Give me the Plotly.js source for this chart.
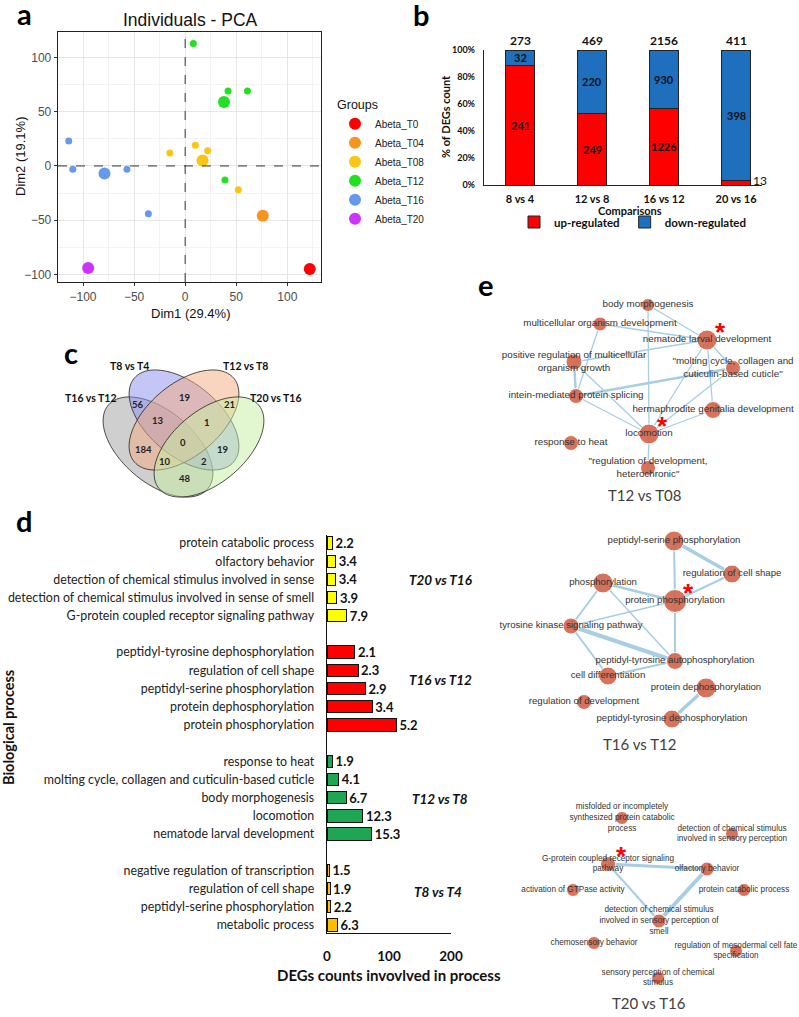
<!DOCTYPE html>
<html><head><meta charset="utf-8">
<script src="https://cdn.plot.ly/plotly-3.0.1.min.js"></script>
<style>html,body{margin:0;padding:0;background:#fff}#chart{width:799px;height:1017px}</style>
</head><body><div id="chart"></div>
<script>
// ================= DATA =================
// (a) PCA
const pcaGroups = ['Abeta_T0','Abeta_T04','Abeta_T08','Abeta_T12','Abeta_T16','Abeta_T20'];
const pcaMeanX = [122, 76, 17, 38, -79, -95];
const pcaMeanY = [-95, -46, 5, 59, -7, -94];
const pcaT08X = [-15, 10, 22, 52];   const pcaT08Y = [12, 19, 14, -22];
const pcaT12X = [8, 42, 61, 39];     const pcaT12Y = [113, 69, 69, -13];
const pcaT16X = [-114, -110, -57, -36]; const pcaT16Y = [23, -3, -3, -44];

// (b) DEG counts
const comparisons = ['8 vs 4','12 vs 8','16 vs 12','20 vs 16'];
const upCounts = [241, 249, 1226, 13];
const downCounts = [32, 220, 930, 398];
const pctTicks = [0, 20, 40, 60, 80, 100];

// (c) Venn
const vennSets = ['T8 vs T4','T12 vs T8','T16 vs T12','T20 vs T16'];
const vennCounts = [56, 19, 21, 13, 1, 184, 0, 19, 10, 2, 48];

// (d) GO terms
const groupNames = ['T20 vs T16','T16 vs T12','T12 vs T8','T8 vs T4'];
const g20Terms = ['protein catabolic process','olfactory behavior','detection of chemical stimulus involved in sense','detection of chemical stimulus involved in sense of smell','G-protein coupled receptor signaling pathway'];
const g20Counts = [9, 14, 14, 16, 32];
const g20Pct = [2.2, 3.4, 3.4, 3.9, 7.9];
const g16Terms = ['peptidyl-tyrosine dephosphorylation','regulation of cell shape','peptidyl-serine phosphorylation','protein dephosphorylation','protein phosphorylation'];
const g16Counts = [45, 50, 62, 73, 112];
const g16Pct = [2.1, 2.3, 2.9, 3.4, 5.2];
const g12Terms = ['response to heat','molting cycle, collagen and cuticulin-based cuticle','body morphogenesis','locomotion','nematode larval development'];
const g12Counts = [9, 19, 31, 58, 72];
const g12Pct = [1.9, 4.1, 6.7, 12.3, 15.3];
const g8Terms = ['negative regulation of transcription','regulation of cell shape','peptidyl-serine phosphorylation','metabolic process'];
const g8Counts = [4, 5, 6, 17];
const g8Pct = [1.5, 1.9, 2.2, 6.3];

// (e) networks: node names, layout coordinates, node sizes, starred, edges [i,j,weight]
const net1Names = ['body morphogenesis','multicellular organism development','nematode larval development','positive regulation of multicellular<br>organism growth','"molting cycle, collagen and<br>cuticulin-based cuticle"','intein-mediated protein splicing','hermaphrodite genitalia development','locomotion','response to heat','"regulation of development,<br>heterochronic"'];
const net1X = [648, 600, 707, 574, 733, 576, 713, 649, 571, 648];
const net1Y = [305, 324, 340, 362, 368, 396, 410, 434, 443, 468];
const net1Size = [13, 14, 20, 16, 15, 15, 17, 20, 15, 15];
const net1Star = [0,0,1,0,0,0,0,1,0,0];
const net1Edges = [[0,2,1.3],[0,7,1.3],[1,2,1.3],[1,5,1.3],[3,5,2.5],[3,2,1.3],[3,7,1.3],[5,7,1.3],[5,4,2.5],[2,7,1.3],[2,6,1.3],[2,4,1.3],[4,7,1.3],[7,6,1.3],[7,9,1.3]];

const net2Names = ['peptidyl-serine phosphorylation','regulation of cell shape','phosphorylation','protein phosphorylation','tyrosine kinase signaling pathway','peptidyl-tyrosine autophosphorylation','cell differentiation','protein dephosphorylation','regulation of development','peptidyl-tyrosine dephosphorylation'];
const net2X = [674, 732, 603, 675, 571, 675, 608, 706, 584, 672];
const net2Y = [541, 574, 583, 601, 626, 661, 676, 688, 702, 719];
const net2Size = [20, 18, 20, 23, 16, 17, 18, 20, 15, 18];
const net2Star = [0,0,0,1,0,0,0,0,0,0];
const net2Edges = [[0,1,3.5],[0,3,2],[1,3,2],[2,3,2.5],[2,4,2],[2,5,1.5],[3,4,1.5],[3,5,2],[4,5,4],[4,6,2],[6,5,2],[7,9,3.5]];

const net3Names = ['misfolded or incompletely<br>synthesized protein catabolic<br>process','detection of chemical stimulus<br>involved in sensory perception','G-protein coupled receptor signaling<br>pathway','olfactory behavior','activation of GTPase activity','protein catabolic process','detection of chemical stimulus<br>involved in sensory perception of<br>smell','chemosensory behavior','regulation of mesodermal cell fate<br>specification','sensory perception of chemical<br>stimulus'];
const net3X = [622, 732, 608, 707, 573, 744, 659, 594, 736, 658];
const net3Y = [818, 834, 864, 869, 890, 890, 921, 943, 951, 978];
const net3Size = [13, 13, 15, 14, 13, 13, 14, 13, 13, 13];
const net3Star = [0,0,1,0,0,0,0,0,0,0];
const net3Edges = [[2,3,3],[2,6,2],[3,6,4]];

// ================= STYLE / LAYOUT =================
const W = 799, H = 1017;
const LATO = 'Lato, "Open Sans", sans-serif';
const ARIAL = '"Liberation Sans", Arial, sans-serif';
const pcaColors = ['#ff0000','#f7941d','#fcc512','#22e022','#6699ee','#cc33ff'];
const dColors = ['#ffff00','#ff0000','#1fa654','#ffc000'];
const dx = p => [p[0]/W, p[1]/W];
const dy = p => [1 - p[1]/H, 1 - p[0]/H];

const traces = [];
// ---- (a) PCA
const indiv = {2:[pcaT08X,pcaT08Y], 3:[pcaT12X,pcaT12Y], 4:[pcaT16X,pcaT16Y]};
Object.keys(indiv).forEach(k => {
  traces.push({type:'scatter', mode:'markers', x:indiv[k][0], y:indiv[k][1], xaxis:'x', yaxis:'y',
    marker:{color:pcaColors[k], size:7}, showlegend:false, legendgroup:pcaGroups[k], hoverinfo:'skip'});
});
pcaGroups.forEach((g,i) => {
  traces.push({type:'scatter', mode:'markers', x:[pcaMeanX[i]], y:[pcaMeanY[i]], xaxis:'x', yaxis:'y',
    name:g, legendgroup:g, legend:'legend', marker:{color:pcaColors[i], size:12}});
});

// ---- (b) stacked percentages
const totals = upCounts.map((u,i)=>u+downCounts[i]);
const upPct = upCounts.map((u,i)=>u/totals[i]*100);
const downPct = downCounts.map((d,i)=>d/totals[i]*100);
traces.push({type:'bar', x:comparisons, y:upPct, name:'up-regulated', xaxis:'x2', yaxis:'y2', legend:'legend2',
  width:0.4, marker:{color:'#ff0000', line:{color:'#222', width:1}}});
traces.push({type:'bar', x:comparisons, y:downPct, name:'down-regulated', xaxis:'x2', yaxis:'y2', legend:'legend2',
  width:0.4, marker:{color:'#1f6fbf', line:{color:'#222', width:1}}});

// ---- (d) horizontal bars, groups separated by an empty slot
const dGroups = [[g20Terms,g20Counts,g20Pct],[g16Terms,g16Counts,g16Pct],[g12Terms,g12Counts,g12Pct],[g8Terms,g8Counts,g8Pct]];
let slot = 0; const tickVals = [], tickText = [];
dGroups.forEach((g,gi) => {
  const ys = g[0].map((t,j)=>slot+j);
  ys.forEach((s,j)=>{tickVals.push(s); tickText.push(g[0][j]);});
  traces.push({type:'bar', orientation:'h', x:g[1], y:ys, xaxis:'x3', yaxis:'y3', showlegend:false, width:0.68,
    marker:{color:dColors[gi], line:{color:'#111', width:1}},
    text:g[2].map(v=>v.toFixed(1)), textposition:'outside', cliponaxis:false, constraintext:'none',
    textfont:{family:LATO, size:13, color:'#111', weight:'bold'}});
  slot += g[0].length + 1;
});

// ---- (e) networks on canvas axis (x4/y4 in px units)
const annotations = [];
const starOff = [13, -12];
function addNet(names, X, Y, S, star, edges, fsize){
  const widths = [...new Set(edges.map(e=>e[2]))];
  widths.forEach(w => {
    const xs=[], ys=[];
    edges.filter(e=>e[2]===w).forEach(e=>{xs.push(X[e[0]],X[e[1]],null); ys.push(Y[e[0]],Y[e[1]],null);});
    traces.push({type:'scatter', mode:'lines', x:xs, y:ys, xaxis:'x4', yaxis:'y4', showlegend:false,
      line:{color:'#a7cee2', width:w}, hoverinfo:'skip', cliponaxis:false});
  });
  traces.push({type:'scatter', mode:'markers+text', x:X, y:Y, text:names, textposition:'middle center',
    xaxis:'x4', yaxis:'y4', showlegend:false, cliponaxis:false,
    marker:{color:'#d4674f', size:S, opacity:0.92},
    textfont:{family:ARIAL, size:fsize, color:'#333'}});
  star.forEach((s,i)=>{ if(s) annotations.push({xref:'x4', yref:'y4', x:X[i]+starOff[0], y:Y[i]+starOff[1]+4,
    text:'*', showarrow:false, font:{family:ARIAL, size:26, color:'#ff0000', weight:'bold'}}); });
}
addNet(net1Names, net1X, net1Y, net1Size, net1Star, net1Edges, 9.8);
addNet(net2Names, net2X, net2Y, net2Size, net2Star, net2Edges, 9.6);
addNet(net3Names, net3X, net3Y, net3Size, net3Star, net3Edges, 8.2);

// ---- annotations
function txt(x, y, t, size, fam, opt){ return Object.assign({xref:'x4', yref:'y4', x:x, y:y, text:t, showarrow:false,
  font:{family:fam, size:size, color:'#111'}}, opt||{}); }
// panel letters
[['a',24,13],['b',421,14],['c',71,352],['d',24,520],['e',486,284]].forEach(p =>
  annotations.push(txt(p[1], p[2], p[0], 29, LATO, {font:{family:LATO, size:29, color:'#000', weight:'bold'}})));
// a
annotations.push(txt(190, 20, 'Individuals - PCA', 17.5, ARIAL, {font:{family:ARIAL,size:17.5,color:'#111'}}));
annotations.push(txt(190, 313, 'Dim1 (29.4%)', 13, ARIAL));
annotations.push(txt(20, 157, 'Dim2 (19.1%)', 13, ARIAL, {textangle:-90}));
// b
comparisons.forEach((c,i) => {
  annotations.push({xref:'x2', yref:'y2', x:c, y:100, yanchor:'bottom', text:String(totals[i]), showarrow:false,
    font:{family:LATO, size:12, color:'#111', weight:'bold'}});
  [[upCounts[i], upPct[i]/2, upPct[i]],[downCounts[i], upPct[i]+downPct[i]/2, downPct[i]]].forEach(s => {
    if (s[2] >= 5) annotations.push({xref:'x2', yref:'y2', x:c, y:s[1], text:String(s[0]), showarrow:false,
      font:{family:LATO, size:11, color:'#111', weight:'bold'}});
    else annotations.push({xref:'x2', yref:'y2', x:i+0.2, y:s[1], xanchor:'left', xshift:1, yshift:2, text:String(s[0]), showarrow:false,
      font:{family:LATO, size:12, color:'#111'}});
  });
});
annotations.push(txt(445, 117, '% of DEGs count', 11, LATO, {textangle:-90, font:{family:LATO,size:11,color:'#111',weight:'bold'}}));
annotations.push(txt(630, 210, 'Comparisons', 11, LATO, {font:{family:LATO,size:11,color:'#111',weight:'bold'}}));
// c
const vennLabelPos = [[129,366],[245,366],[91,398],[276,398]];
vennSets.forEach((s,i)=>annotations.push(txt(vennLabelPos[i][0], vennLabelPos[i][1], s, 10.5, LATO, {font:{family:LATO,size:10.5,color:'#111',weight:'bold'}})));
const vennCountPos = [[138,404],[185,397],[229,404],[158,420],[207,422],[143,449],[183,442],[223,449],[165,461],[204,461],[185,478]];
vennCounts.forEach((v,i)=>annotations.push(txt(vennCountPos[i][0], vennCountPos[i][1], String(v), 9.5, LATO, {font:{family:LATO,size:9.5,color:'#222',weight:'bold'}})));
// d
const groupLabelPx = [[441,580],[440,680],[440,799],[438,892]];
groupNames.forEach((g,i)=>annotations.push(txt(groupLabelPx[i][0], groupLabelPx[i][1], g, 13.5, LATO, {font:{family:LATO,size:13.5,color:'#111',weight:'bold',style:'italic'}})));
annotations.push(txt(389, 975, 'DEGs counts invovlved in process', 15, LATO, {font:{family:LATO,size:15,color:'#111',weight:'bold'}}));
annotations.push(txt(8, 728, 'Biological process', 14.5, LATO, {textangle:-90, font:{family:LATO,size:14.5,color:'#111',weight:'bold'}}));
// e titles
[['T12 vs T08',644,495],['T16 vs T12',639,744],['T20 vs T16',649,1003]].forEach(t=>
  annotations.push(txt(t[1], t[2], t[0], 15, LATO, {font:{family:LATO,size:15,color:'#404040'}})));

// ---- Venn ellipses (geometry)
function ellipsePath(cx, cy, a, b, deg){
  const t = deg*Math.PI/180; let s = '';
  for (let i=0;i<=90;i++){ const ph=i/90*2*Math.PI, ex=a*Math.cos(ph), ey=b*Math.sin(ph);
    s += (i?'L':'M') + (cx+ex*Math.cos(t)-ey*Math.sin(t)).toFixed(2) + ',' + (cy+ex*Math.sin(t)+ey*Math.cos(t)).toFixed(2); }
  return s + 'Z';
}
const vennShapes = [ // [cx, cy, a, b, rotation, fill]
  [158, 447, 65, 36, 40, 'rgba(160,160,160,0.5)'],
  [184, 420, 65, 36, 40, 'rgba(137,141,237,0.5)'],
  [184, 420, 65, 36, -40, 'rgba(243,169,127,0.5)'],
  [209, 447, 65, 36, -40, 'rgba(197,239,159,0.5)']
];
const shapes = vennShapes.map(v => ({type:'path', xref:'x4', yref:'y4', path:ellipsePath(v[0],v[1],v[2],v[3],v[4]),
  fillcolor:v[5], line:{color:'#222', width:0.8}}));
shapes.push({type:'line', xref:'x', yref:'y', x0:0, x1:0, y0:-107, y1:123.5, line:{color:'#333', width:1, dash:'dash'}});
shapes.push({type:'line', xref:'x', yref:'y', x0:-124.5, x1:133, y0:0, y1:0, line:{color:'#333', width:1, dash:'dash'}});

const layout = {
  width:W, height:H, margin:{l:0,r:0,t:0,b:0}, paper_bgcolor:'#fff', plot_bgcolor:'rgba(0,0,0,0)',
  font:{family:LATO, color:'#111'}, barmode:'stack', showlegend:true,
  xaxis:{domain:dx([58,321]), range:[-124.5,133], anchor:'y', tickvals:[-100,-50,0,50,100], showgrid:true, gridcolor:'#e6e6e6',
    minor:{tickvals:[-125,-75,-25,25,75,125], showgrid:true, gridcolor:'#f3f3f3', ticks:''}, zeroline:false,
    showline:true, mirror:true, linecolor:'#222', linewidth:1.3, ticks:'outside', ticklen:3, tickcolor:'#333',
    tickfont:{family:ARIAL, size:12, color:'#4d4d4d'}},
  yaxis:{domain:dy([32,282]), range:[-107,123.5], anchor:'x', tickvals:[-100,-50,0,50,100], showgrid:true, gridcolor:'#e6e6e6',
    minor:{tickvals:[-75,-25,25,75], showgrid:true, gridcolor:'#f3f3f3', ticks:''}, zeroline:false,
    showline:true, mirror:true, linecolor:'#222', linewidth:1.3, ticks:'outside', ticklen:3, tickcolor:'#333',
    tickfont:{family:ARIAL, size:12, color:'#4d4d4d'}},
  xaxis2:{domain:dx([484,762]), anchor:'y2', type:'category', range:[-0.5,3.36], showline:true, linecolor:'#222', linewidth:1.2,
    showgrid:false, zeroline:false, ticks:'', tickfont:{family:LATO, size:11, color:'#111', weight:'bold'}, ticklabelstandoff:4},
  yaxis2:{domain:dy([50,185]), anchor:'x2', range:[0,100], tickmode:'array', tickvals:pctTicks, ticktext:pctTicks.map(v=>v+'%'), showline:true,
    linecolor:'#222', linewidth:1.2, showgrid:false, zeroline:false, ticks:'', ticklabelstandoff:6,
    tickfont:{family:LATO, size:9, color:'#111', weight:'bold'}},
  xaxis3:{domain:dx([327,451]), anchor:'y3', range:[0,200], tickvals:[0,100,200], showline:true, linecolor:'#111', linewidth:1.3,
    showgrid:false, zeroline:false, ticks:'', ticklabelstandoff:10, tickfont:{family:LATO, size:13.5, color:'#111', weight:'bold'}},
  yaxis3:{domain:dy([535,933]), anchor:'x3', range:[slot - 2 + 0.44, -0.44], tickvals:tickVals, ticktext:tickText,
    showline:true, linecolor:'#111', linewidth:1.3, showgrid:false, zeroline:false, ticks:'', ticklabelstandoff:9,
    tickfont:{family:LATO, size:12.4, color:'#222'}},
  xaxis4:{domain:[0,1], range:[0,W], anchor:'y4', visible:false, fixedrange:true},
  yaxis4:{domain:[0,1], range:[H,0], anchor:'x4', visible:false, fixedrange:true},
  legend:{x:335/W, y:1-93/H, xanchor:'left', yanchor:'top', bgcolor:'rgba(0,0,0,0)', itemsizing:'trace', tracegroupgap:0,
    title:{text:'Groups', font:{family:ARIAL, size:12.5, color:'#111'}}, font:{family:ARIAL, size:10, color:'#222'}},
  legend2:{orientation:'h', x:633/W, y:1-222/H, xanchor:'center', yanchor:'middle', bgcolor:'rgba(0,0,0,0)', traceorder:'normal',
    font:{family:LATO, size:11.5, color:'#111', weight:'bold'}, itemwidth:30},
  annotations:annotations, shapes:shapes
};

Plotly.newPlot('chart', traces, layout, {staticPlot:true, displayModeBar:false});
</script></body></html>
